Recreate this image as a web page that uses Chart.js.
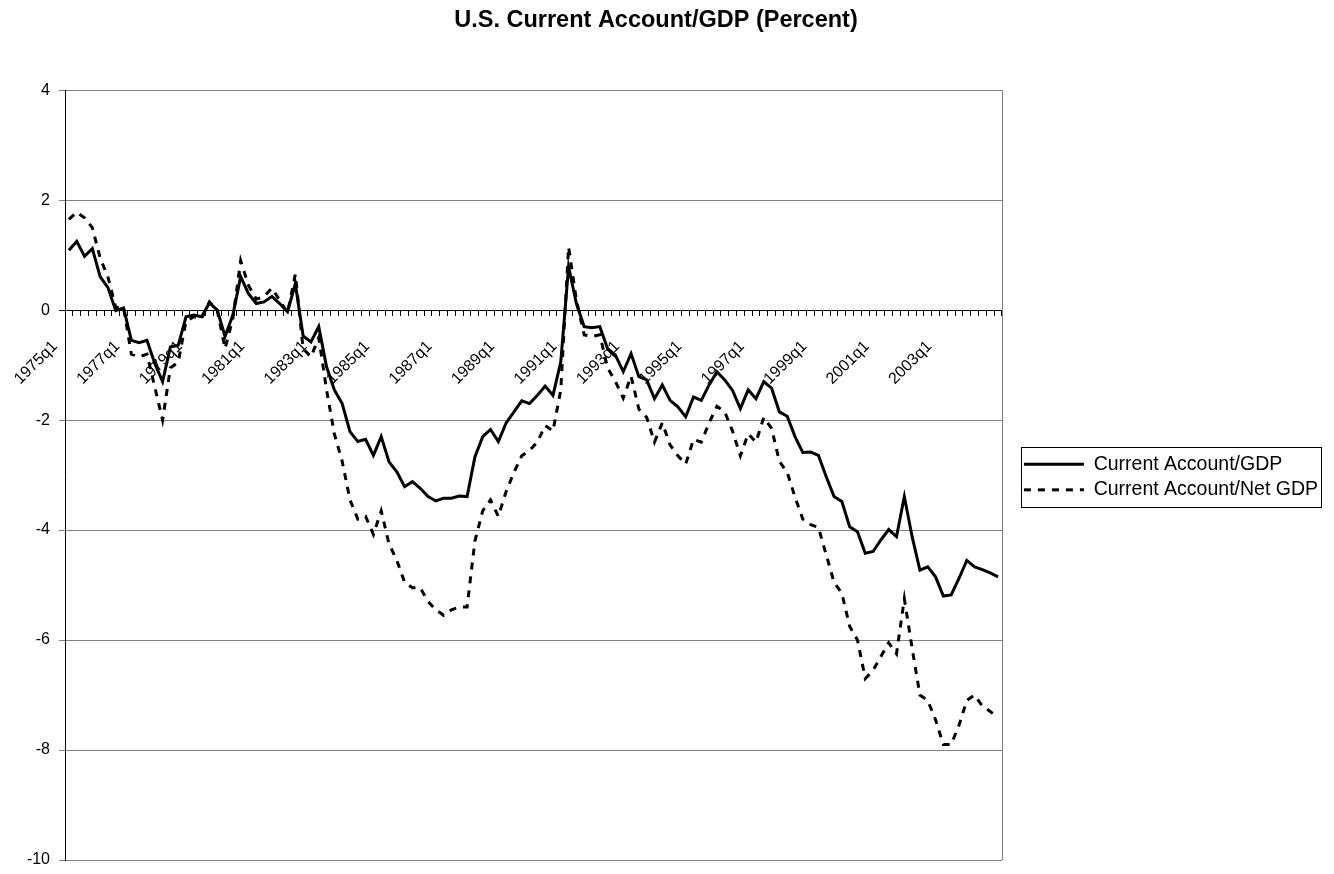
<!DOCTYPE html>
<html>
<head>
<meta charset="utf-8">
<title>U.S. Current Account/GDP (Percent)</title>
<script src="https://cdn.jsdelivr.net/npm/chart.js@4.4.1/dist/chart.umd.min.js"></script>
<style>
  html, body { margin: 0; padding: 0; background: #fff; }
  #wrap { width: 1334px; height: 874px; position: relative; }
</style>
</head>
<body>
<div id="wrap"><canvas id="chart"></canvas></div>
<script>
// Quarterly categories, 1975q1 .. 2004q4
const YEARS = [];
for (let y = 1975; y <= 2004; y++) YEARS.push(y);
const QUARTERS = [];
YEARS.forEach((y) => { for (let q = 1; q <= 4; q++) QUARTERS.push(y + 'q' + q); });

// Y axis ticks
const Y_MIN = -10;
const Y_MAX = 4;
const Y_STEP = 2;

// Current Account/GDP (solid)
const CA_GDP = [
   1.09,  1.25,  0.98,  1.12,  0.61,  0.41, -0.01,  0.04,
  -0.55, -0.59, -0.55, -0.97, -1.30, -0.67, -0.64, -0.12,
  -0.09, -0.12,  0.13,  0.00, -0.48, -0.09,  0.61,  0.30,
   0.12,  0.15,  0.25,  0.12, -0.03,  0.48, -0.47, -0.58,
  -0.30, -1.03, -1.45, -1.70, -2.21, -2.39, -2.35, -2.64,
  -2.30, -2.76, -2.94, -3.21, -3.12, -3.24, -3.39, -3.47,
  -3.42, -3.42, -3.38, -3.39, -2.67, -2.30, -2.17, -2.39,
  -2.05, -1.85, -1.65, -1.70, -1.55, -1.38, -1.55, -0.94,
   0.79,  0.12, -0.30, -0.32, -0.30, -0.70, -0.82, -1.12,
  -0.79, -1.21, -1.27, -1.61, -1.36, -1.64, -1.76, -1.94,
  -1.58, -1.64, -1.36, -1.12, -1.27, -1.46, -1.79, -1.45,
  -1.61, -1.30, -1.42, -1.85, -1.93, -2.30, -2.59, -2.58,
  -2.64, -3.03, -3.39, -3.48, -3.94, -4.03, -4.42, -4.39,
  -4.18, -3.99, -4.12, -3.39, -4.12, -4.73, -4.67, -4.85,
  -5.20, -5.18, -4.88, -4.55, -4.67, -4.72, -4.78, -4.85
];

// Current Account/Net GDP (dashed)
const CA_NET_GDP = [
   1.65,  1.78,  1.68,  1.50,  0.95,  0.60,  0.05,  0.05,
  -0.80, -0.85, -0.80, -1.40, -2.00, -1.05, -0.95, -0.20,
  -0.12, -0.15,  0.15,  0.00, -0.70, -0.15,  0.90,  0.45,
   0.20,  0.25,  0.40,  0.18, -0.05,  0.65, -0.70, -0.85,
  -0.50, -1.45, -2.25, -2.75, -3.45, -3.80, -3.75, -4.08,
  -3.65, -4.25, -4.55, -4.95, -5.05, -5.05, -5.30, -5.45,
  -5.55, -5.45, -5.40, -5.40, -4.20, -3.65, -3.45, -3.75,
  -3.30, -2.95, -2.65, -2.55, -2.40, -2.10, -2.20, -1.45,
   1.15,  0.18, -0.45, -0.48, -0.45, -1.05, -1.30, -1.60,
  -1.20, -1.80, -1.95, -2.40, -2.05, -2.45, -2.65, -2.80,
  -2.35, -2.40, -2.05, -1.75, -1.85, -2.20, -2.65, -2.25,
  -2.40, -1.95, -2.15, -2.75, -2.95, -3.40, -3.80, -3.90,
  -3.95, -4.45, -4.95, -5.15, -5.75, -6.00, -6.70, -6.55,
  -6.30, -6.05, -6.25, -5.25, -6.15, -7.00, -7.10, -7.45,
  -7.90, -7.90, -7.55, -7.10, -7.00, -7.20, -7.30, -7.40
];

const FONT = "'Liberation Sans', Arial, Helvetica, sans-serif";
Chart.defaults.font.family = FONT;
Chart.defaults.color = '#000';

// Excel-style frame: grey right edge of the plot, legend moved off the plot and boxed
const frame = {
  id: 'frame',
  afterLayout(chart) {
    const lg = chart.legend;
    if (!lg) return;
    lg.left += 16; lg.right += 16;
    lg.top += 2; lg.bottom += 2;
  },
  beforeDatasetsDraw(chart) {
    const a = chart.chartArea;
    const ctx = chart.ctx;
    ctx.save();
    ctx.strokeStyle = '#808080';
    ctx.lineWidth = 1;
    ctx.beginPath();
    ctx.moveTo(Math.round(a.right) + 0.5, a.top);
    ctx.lineTo(Math.round(a.right) + 0.5, a.bottom);
    ctx.stroke();
    ctx.restore();
  },
  afterDraw(chart) {
    const boxes = chart.legend && chart.legend.legendHitBoxes;
    if (!boxes || !boxes.length) return;
    const left = Math.min(...boxes.map(b => b.left));
    const right = Math.max(...boxes.map(b => b.left + b.width));
    const top = Math.min(...boxes.map(b => b.top));
    const bottom = Math.max(...boxes.map(b => b.top + b.height));
    const ctx = chart.ctx;
    ctx.save();
    ctx.strokeStyle = '#000';
    ctx.lineWidth = 1;
    ctx.strokeRect(Math.round(left - 3) + 0.5, Math.round(top - 8) + 0.5,
                   Math.round(right - left + 6), Math.round(bottom - top + 15));
    ctx.restore();
  }
};

new Chart(document.getElementById('chart'), {
  type: 'line',
  data: {
    labels: QUARTERS,
    datasets: [
      {
        label: 'Current Account/GDP',
        data: CA_GDP,
        borderColor: '#000',
        backgroundColor: '#000',
        borderWidth: 3,
        pointRadius: 0,
        tension: 0,
        fill: false,
      },
      {
        label: 'Current Account/Net GDP',
        data: CA_NET_GDP,
        borderColor: '#000',
        backgroundColor: '#000',
        borderWidth: 3,
        borderDash: [7, 7],
        pointRadius: 0,
        tension: 0,
        fill: false,
      }
    ]
  },
  options: {
    responsive: true,
    maintainAspectRatio: false,
    animation: false,
    layout: { padding: { left: 0, right: 22, top: 0, bottom: 14 } },
    plugins: {
      title: {
        display: true,
        text: 'U.S. Current Account/GDP (Percent)',
        font: { size: 23.5, weight: 'bold' },
        color: '#000',
        padding: { top: 6, bottom: 56 },
      },
      legend: {
        position: 'right',
        fullSize: false,
        labels: {
          usePointStyle: true,
          pointStyle: 'line',
          pointStyleWidth: 60,
          padding: 6,
          font: { size: 19.5 },
          color: '#000',
          generateLabels: (chart) => {
            const items = Chart.defaults.plugins.legend.labels.generateLabels(chart);
            items.forEach((it) => {
              const ds = chart.data.datasets[it.datasetIndex];
              it.lineDash = ds.borderDash || [];
              it.lineWidth = ds.borderWidth;
              it.strokeStyle = '#000';
              it.pointStyle = 'line';
            });
            return items;
          },
        }
      },
      tooltip: { enabled: false }
    },
    scales: {
      x: {
        type: 'category',
        position: { y: 0 },
        offset: true,
        grid: { offset: true, drawOnChartArea: false, drawTicks: true, tickLength: 6, color: '#000' },
        border: { display: false },
        ticks: {
          z: -1,
          autoSkip: false,
          maxRotation: 45,
          minRotation: 45,
          labelOffset: -14,
          padding: 21,
          font: { size: 16 },
          color: '#000',
          callback: (v, i) => (i % 8 === 0 ? QUARTERS[i] : ''),
        },
        afterFit: (s) => { s.height = 0; },
      },
      y: {
        min: Y_MIN,
        max: Y_MAX,
        ticks: { stepSize: Y_STEP, padding: 9, font: { size: 16 }, color: '#000' },
        grid: {
          color: (c) => (c.tick && c.tick.value === 0 ? '#000' : '#808080'),
          tickLength: 6,
        },
        border: { color: '#000' },
        afterFit: (s) => { s.width = 65; s.paddingBottom = 0; },
      }
    }
  },
  plugins: [frame]
});
</script>
</body>
</html>
